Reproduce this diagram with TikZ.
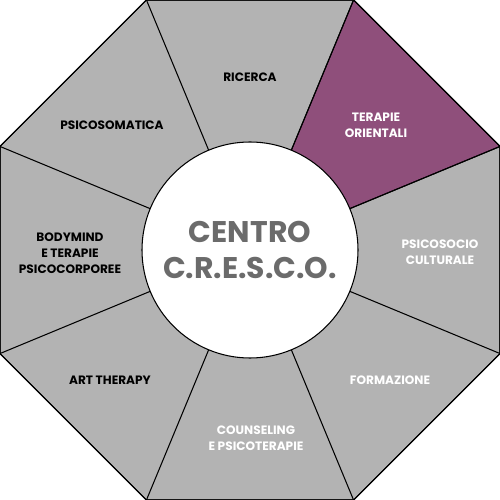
\documentclass[tikz,border=0pt]{standalone}
\usepackage{fontspec}
\setmainfont{Poppins}
\usepackage{tikz}
\usetikzlibrary{calc}
\definecolor{segray}{HTML}{B3B3B3}
\definecolor{plum}{HTML}{8F4F7B}
\definecolor{coretext}{HTML}{6B6B6B}
\tikzset{
  sector/.style={
    fill=#1, draw=black, line width=0.6pt, line join=miter
  },
  sector/.default=segray,
  spoke/.style={
    draw=black, line width=0.6pt
  },
  seglabel/.style={
    font=\fontsize{6.9}{9.1}\selectfont\bfseries, color=#1, align=center,
    inner sep=0pt
  },
  seglabel/.default=black,
  corelabel/.style={
    circle, draw=black, fill=white, line width=0.6pt,
    minimum size=4.32cm, inner sep=0pt, align=center,
    font=\fontsize{17}{21}\selectfont\bfseries, text=coretext
  },
}

\begin{document}
\begin{tikzpicture}
  \useasboundingbox (-5,-5) rectangle (5,5);

  % Octagon corners
  \coordinate (O) at (0,0);
  \foreach \k in {0,...,7} {
    \pgfmathsetmacro{\a}{22.5 + \k*45}
    \coordinate (v\k) at (\a:5.412);
  }

  % Sectors
  \path[sector] (v0) -- (v1) -- (v2) -- (v3) -- (v4) -- (v5) -- (v6) -- (v7) -- cycle;
  \path[sector=plum] (O) -- (v0) -- (v1) -- cycle;
  \foreach \k in {0,...,7} {
    \draw[spoke] (O) -- (v\k);
  }
  \draw[line width=0.6pt] (v0) -- (v1) -- (v2) -- (v3) -- (v4) -- (v5) -- (v6) -- (v7) -- cycle;

  % Centre
  \node[corelabel] (core) at (O) {CENTRO\\C.R.E.S.C.O.};

  % Sector labels
  \node[seglabel] (ricerca) at (0,3.46) {RICERCA};
  \node[seglabel=white] (orient) at (2.52,2.5) {TERAPIE\\ORIENTALI};
  \node[seglabel=white] (psisoc) at (3.8,-0.04) {PSICOSOCIO\\CULTURALE};
  \node[seglabel=white] (formaz) at (2.8,-2.6) {FORMAZIONE};
  \node[seglabel=white] (counsel) at (0.12,-3.76) {COUNSELING\\E PSICOTERAPIE};
  \node[seglabel] (arther) at (-2.8,-2.6) {ART THERAPY};
  \node[seglabel] (bodymind) at (-3.6,-0.06) {BODYMIND\\E TERAPIE\\PSICOCORPOREE};
  \node[seglabel] (psisom) at (-2.76,2.5) {PSICOSOMATICA};
\end{tikzpicture}
\end{document}
